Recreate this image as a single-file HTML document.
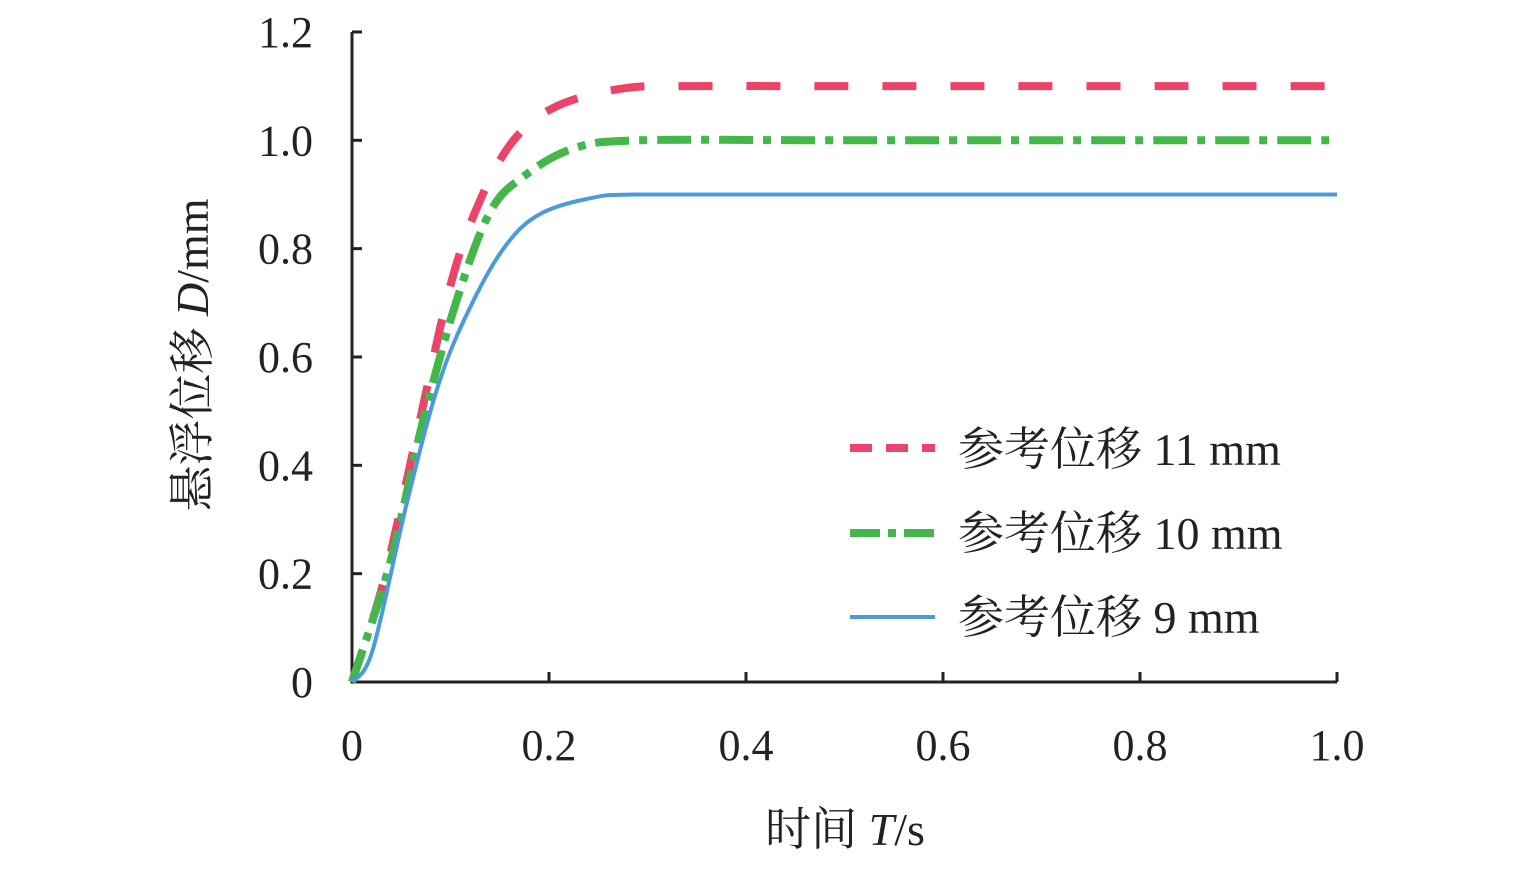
<!DOCTYPE html>
<html><head><meta charset="utf-8"><style>
body{margin:0;background:#fff}
text{font-family:"Liberation Serif","Noto Serif CJK SC",serif;fill:#222}
</style></head><body>
<svg width="1535" height="866">
<g id="axes"></g><g id="series"></g>
<g>
<line x1="850" y1="448" x2="935" y2="448" stroke="#ec4468" stroke-width="8" stroke-dasharray="22,14"/>
<text x="958" y="465" font-size="46">参考位移 11 mm</text>
<line x1="850" y1="533" x2="935" y2="533" stroke="#43b74a" stroke-width="8" stroke-dasharray="30,8,8,8"/>
<text x="958" y="549" font-size="46">参考位移 10 mm</text>
<line x1="850" y1="617" x2="935" y2="617" stroke="#4a9bdc" stroke-width="4"/>
<text x="958" y="633" font-size="46">参考位移 9 mm</text>
</g>
<text x="845" y="845" font-size="46" text-anchor="middle">时间 <tspan font-style="italic">T</tspan>/s</text>
<text transform="translate(208,355) rotate(-90)" font-size="46" text-anchor="middle">悬浮位移 <tspan font-style="italic">D</tspan>/mm</text>
</svg>
<script>
const xTicks=[0,0.2,0.4,0.6,0.8,1.0];
const xTickLabels=["0","0.2","0.4","0.6","0.8","1.0"];
const yTicks=[0,0.2,0.4,0.6,0.8,1.0,1.2];
const yTickLabels=["0","0.2","0.4","0.6","0.8","1.0","1.2"];
const tRed=[0,0.032,0.066,0.1,0.13,0.164,0.208,0.276,0.35,0.5,1.0];
const vRed=[0,0.185,0.459,0.733,0.889,1.0,1.063,1.096,1.1,1.1,1.1];
const tGreen=[0,0.039,0.072,0.106,0.14,0.174,0.225,0.293,0.5,1.0];
const vGreen=[0,0.222,0.481,0.703,0.867,0.933,0.985,1.0,1.0,1.0];
const tBlue=[0,0.021,0.056,0.089,0.123,0.157,0.191,0.242,0.293,0.5,1.0];
const vBlue=[0,0.059,0.333,0.556,0.703,0.808,0.864,0.893,0.9,0.9,0.9];
const X=t=>352+t*985, Y=v=>682-v*541.7;
const NS="http://www.w3.org/2000/svg";
const ax=document.getElementById('axes'), sr=document.getElementById('series');
function mk(p,tag,a){const e=document.createElementNS(NS,tag);for(const k in a)e.setAttribute(k,a[k]);p.appendChild(e);return e;}
let e=mk(ax,'path',{d:`M${X(0)},${Y(1.2)}V${Y(0)}H${X(1)}`,fill:'none',stroke:'#222','stroke-width':3});


xTicks.forEach((t,i)=>{
 let l=mk(ax,'line',{x1:X(t),x2:X(t),y1:Y(0),y2:Y(0)-10,stroke:'#222','stroke-width':3});
 
 
 let tx=mk(ax,'text',{x:X(t),y:760,'font-size':44,'text-anchor':'middle'});tx.textContent=xTickLabels[i];
 
 
});
yTicks.forEach((v,i)=>{
 let l=mk(ax,'line',{x1:X(0),x2:X(0)+10,y1:Y(v),y2:Y(v),stroke:'#222','stroke-width':3});
 
 
 let tx=mk(ax,'text',{x:313,y:Y(v)+15,'font-size':44,'text-anchor':'end'});tx.textContent=yTickLabels[i];
 
 
});
function smooth(ts,vs){let p=ts.map((t,i)=>[X(t),Y(vs[i])]);let d=`M${p[0][0]},${p[0][1]}`;
 for(let i=0;i<p.length-1;i++){const p0=p[Math.max(0,i-1)],p1=p[i],p2=p[i+1],p3=p[Math.min(p.length-1,i+2)];
 d+=`C${p1[0]+(p2[0]-p0[0])/6},${p1[1]+(p2[1]-p0[1])/6} ${p2[0]-(p3[0]-p1[0])/6},${p2[1]-(p3[1]-p1[1])/6} ${p2[0]},${p2[1]}`;}return d;}
let s=mk(sr,'path',{d:smooth(tRed,vRed),fill:'none',stroke:'#ec4468','stroke-width':8,'stroke-dasharray':'34,34'});


s=mk(sr,'path',{d:smooth(tGreen,vGreen),fill:'none',stroke:'#43b74a','stroke-width':8,'stroke-dasharray':'34,10,8,10'});


s=mk(sr,'path',{d:smooth(tBlue,vBlue),fill:'none',stroke:'#4a9bdc','stroke-width':4});


</script>
</body></html>
